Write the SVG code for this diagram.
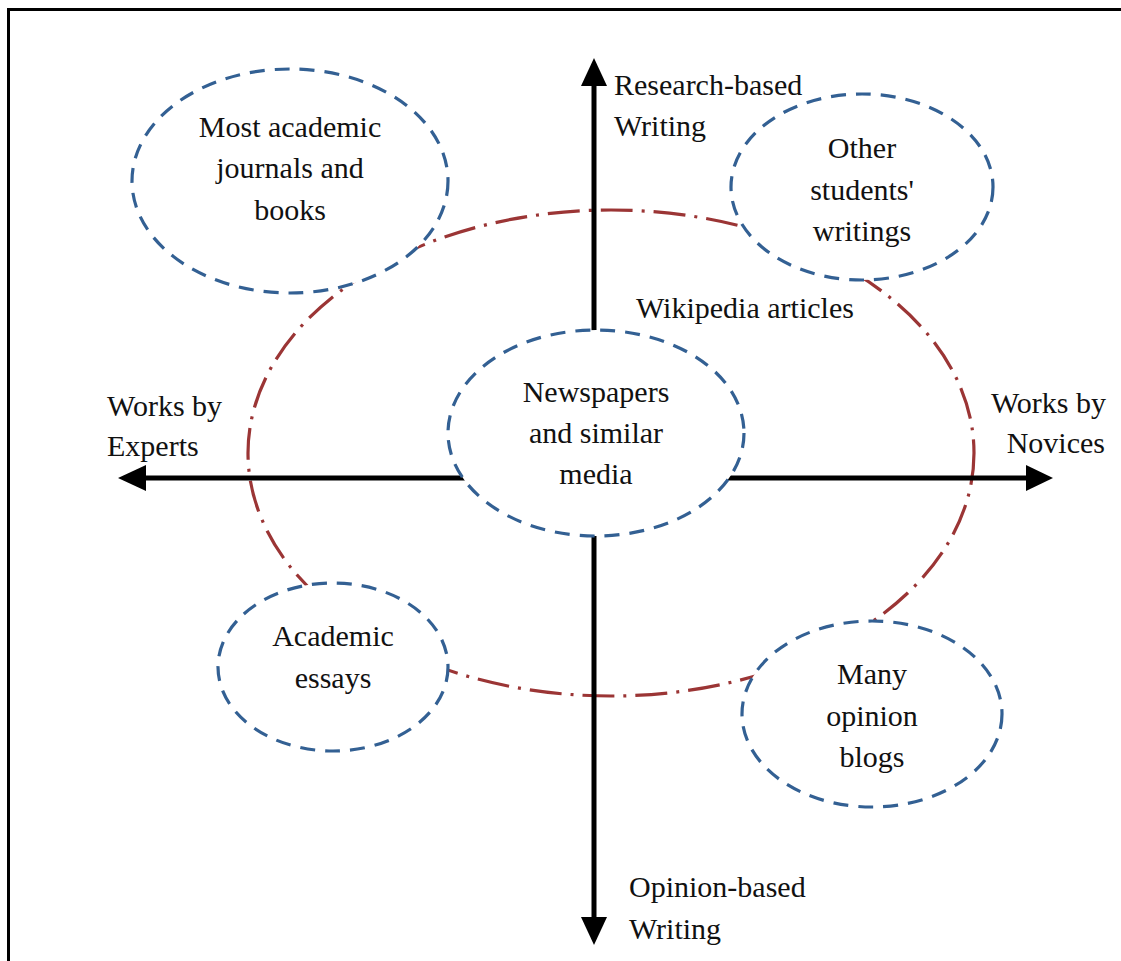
<svg xmlns="http://www.w3.org/2000/svg" width="1121" height="961" viewBox="0 0 1121 961">
<style>
.t{font-family:"Liberation Serif","Times New Roman",serif;font-size:30px;fill:#111}
.m{text-anchor:middle}
.e{fill:#fff;stroke:#336093;stroke-width:3.2;stroke-dasharray:15 10}
.red{fill:none;stroke:#9b3535;stroke-width:3.2;stroke-dasharray:32 9 3 9}
.ax{stroke:#000;stroke-width:5;fill:none}
</style>
<rect width="1121" height="961" fill="#fff"/>
<path d="M8.5 961 V9.5 H1121" fill="none" stroke="#000" stroke-width="3"/>
<ellipse id="scope" class="red" cx="611" cy="453" rx="363" ry="243"/>
<g id="connectors">
<line class="ax" x1="594" y1="80" x2="594" y2="340"/>
<polygon points="594,58 581,86 607,86"/>
<line class="ax" x1="594" y1="530" x2="594" y2="920"/>
<polygon points="594,945 581,917 607,917"/>
<line class="ax" x1="142" y1="478" x2="470" y2="478"/>
<polygon points="118,478 146,465 146,491"/>
<line class="ax" x1="725" y1="478" x2="1030" y2="478"/>
<polygon points="1053,478 1026,465 1026,491"/>
</g>
<g id="journals">
<ellipse class="e" cx="290" cy="181" rx="158" ry="112"/>
<text class="t m" x="290" y="137">Most academic</text>
<text class="t m" x="290" y="178">journals and</text>
<text class="t m" x="290" y="220">books</text>
</g>
<g id="students">
<ellipse class="e" cx="862" cy="187" rx="131" ry="93"/>
<text class="t m" x="862" y="158">Other</text>
<text class="t m" x="862" y="200">students'</text>
<text class="t m" x="862" y="241">writings</text>
</g>
<g id="newspapers">
<ellipse class="e" cx="596" cy="433" rx="148" ry="103"/>
<text class="t m" x="596" y="402">Newspapers</text>
<text class="t m" x="596" y="443">and similar</text>
<text class="t m" x="596" y="484">media</text>
</g>
<g id="essays">
<ellipse class="e" cx="333" cy="667" rx="115" ry="84"/>
<text class="t m" x="333" y="646">Academic</text>
<text class="t m" x="333" y="688">essays</text>
</g>
<g id="blogs">
<ellipse class="e" cx="872" cy="714" rx="130" ry="93"/>
<text class="t m" x="872" y="684">Many</text>
<text class="t m" x="872" y="726">opinion</text>
<text class="t m" x="872" y="767">blogs</text>
</g>
<g id="wikipedia">
<text class="t" x="636" y="318">Wikipedia articles</text>
</g>
<g id="labels">
<text class="t" x="614" y="95">Research-based</text>
<text class="t" x="614" y="136">Writing</text>
<text class="t" x="629" y="897">Opinion-based</text>
<text class="t" x="629" y="939">Writing</text>
<text class="t" x="107" y="416">Works by</text>
<text class="t" x="107" y="456">Experts</text>
<text class="t" x="1106" y="413" text-anchor="end">Works by</text>
<text class="t" x="1105" y="453" text-anchor="end">Novices</text>
</g>
</svg>
